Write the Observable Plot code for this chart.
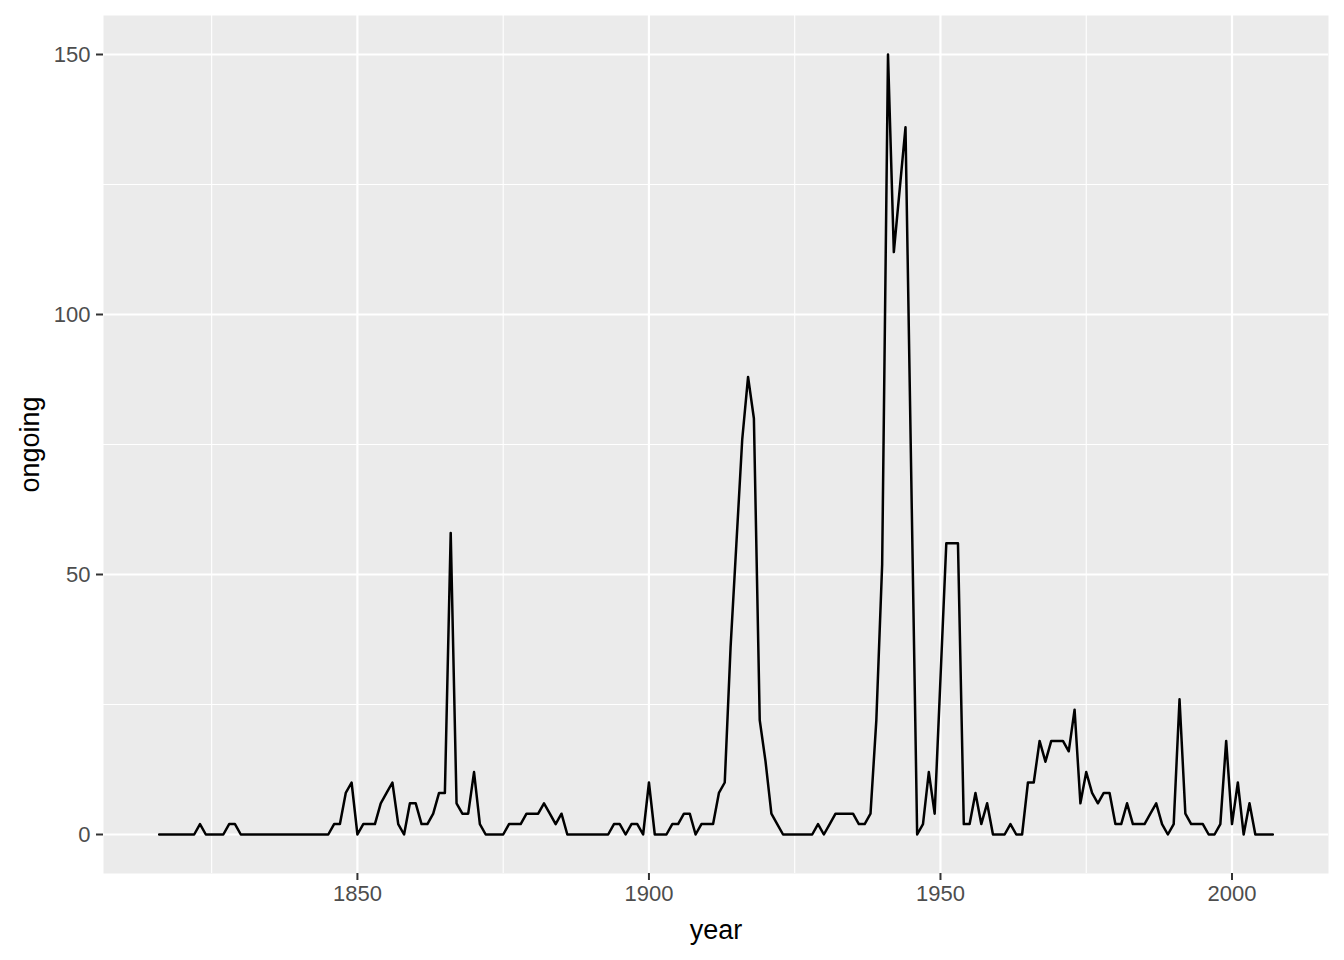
<!DOCTYPE html>
<html>
<head>
<meta charset="utf-8">
<script src="https://cdn.jsdelivr.net/npm/d3@7"></script>
<script src="https://cdn.jsdelivr.net/npm/@observablehq/plot@0.6"></script>
<style>
  html, body { margin: 0; padding: 0; background: #ffffff; }
  #chart svg { display: block; background: #ffffff; }
</style>
</head>
<body>
<div id="chart"></div>
<script>
const years = [
  1816, 1817, 1818, 1819,
  1820, 1821, 1822, 1823, 1824, 1825, 1826, 1827, 1828, 1829,
  1830, 1831, 1832, 1833, 1834, 1835, 1836, 1837, 1838, 1839,
  1840, 1841, 1842, 1843, 1844, 1845, 1846, 1847, 1848, 1849,
  1850, 1851, 1852, 1853, 1854, 1855, 1856, 1857, 1858, 1859,
  1860, 1861, 1862, 1863, 1864, 1865, 1866, 1867, 1868, 1869,
  1870, 1871, 1872, 1873, 1874, 1875, 1876, 1877, 1878, 1879,
  1880, 1881, 1882, 1883, 1884, 1885, 1886, 1887, 1888, 1889,
  1890, 1891, 1892, 1893, 1894, 1895, 1896, 1897, 1898, 1899,
  1900, 1901, 1902, 1903, 1904, 1905, 1906, 1907, 1908, 1909,
  1910, 1911, 1912, 1913, 1914, 1915, 1916, 1917, 1918, 1919,
  1920, 1921, 1922, 1923, 1924, 1925, 1926, 1927, 1928, 1929,
  1930, 1931, 1932, 1933, 1934, 1935, 1936, 1937, 1938, 1939,
  1940, 1941, 1942, 1943, 1944, 1945, 1946, 1947, 1948, 1949,
  1950, 1951, 1952, 1953, 1954, 1955, 1956, 1957, 1958, 1959,
  1960, 1961, 1962, 1963, 1964, 1965, 1966, 1967, 1968, 1969,
  1970, 1971, 1972, 1973, 1974, 1975, 1976, 1977, 1978, 1979,
  1980, 1981, 1982, 1983, 1984, 1985, 1986, 1987, 1988, 1989,
  1990, 1991, 1992, 1993, 1994, 1995, 1996, 1997, 1998, 1999,
  2000, 2001, 2002, 2003, 2004, 2005, 2006, 2007
];

const ongoing = [
  0, 0, 0, 0,
  0, 0, 0, 2, 0, 0, 0, 0, 2, 2,
  0, 0, 0, 0, 0, 0, 0, 0, 0, 0,
  0, 0, 0, 0, 0, 0, 2, 2, 8, 10,
  0, 2, 2, 2, 6, 8, 10, 2, 0, 6,
  6, 2, 2, 4, 8, 8, 58, 6, 4, 4,
  12, 2, 0, 0, 0, 0, 2, 2, 2, 4,
  4, 4, 6, 4, 2, 4, 0, 0, 0, 0,
  0, 0, 0, 0, 2, 2, 0, 2, 2, 0,
  10, 0, 0, 0, 2, 2, 4, 4, 0, 2,
  2, 2, 8, 10, 36, 56, 76, 88, 80, 22,
  14, 4, 2, 0, 0, 0, 0, 0, 0, 2,
  0, 2, 4, 4, 4, 4, 2, 2, 4, 22,
  52, 150, 112, 124, 136, 68, 0, 2, 12, 4,
  30, 56, 56, 56, 2, 2, 8, 2, 6, 0,
  0, 0, 2, 0, 0, 10, 10, 18, 14, 18,
  18, 18, 16, 24, 6, 12, 8, 6, 8, 8,
  2, 2, 6, 2, 2, 2, 4, 6, 2, 0,
  2, 26, 4, 2, 2, 2, 0, 0, 2, 18,
  2, 10, 0, 6, 0, 0, 0, 0
];

const xMajorTicks = [1850, 1900, 1950, 2000];
const xMinorTicks = [1825, 1875, 1925, 1975];
const yMajorTicks = [0, 50, 100, 150];
const yMinorTicks = [25, 75, 125];
const xTitle = "year";
const yTitle = "ongoing";

const data = years.map((y, i) => ({year: y, ongoing: ongoing[i]}));

const xPad = (d3.max(years) - d3.min(years)) * 0.05;
const yPad = (d3.max(ongoing) - d3.min(ongoing)) * 0.05;

const chart = Plot.plot({
  width: 1344,
  height: 960,
  marginLeft: 103,
  marginRight: 16,
  marginTop: 15,
  marginBottom: 87,
  style: {fontFamily: "'Liberation Sans', Arial, Helvetica, sans-serif", background: "#ffffff"},
  x: {domain: [d3.min(years) - xPad, d3.max(years) + xPad]},
  y: {domain: [d3.min(ongoing) - yPad, d3.max(ongoing) + yPad]},
  marks: [
    Plot.frame({fill: "#EBEBEB", stroke: null}),
    Plot.gridX(xMinorTicks, {stroke: "#ffffff", strokeOpacity: 1, strokeWidth: 1.1}),
    Plot.gridY(yMinorTicks, {stroke: "#ffffff", strokeOpacity: 1, strokeWidth: 1.1}),
    Plot.gridX(xMajorTicks, {stroke: "#ffffff", strokeOpacity: 1, strokeWidth: 2.2}),
    Plot.gridY(yMajorTicks, {stroke: "#ffffff", strokeOpacity: 1, strokeWidth: 2.2}),
    Plot.line(data, {x: "year", y: "ongoing", stroke: "#000000", strokeWidth: 2.5}),
    Plot.axisX(xMajorTicks, {
      tickSize: 7, tickPadding: 5, stroke: "#333333", strokeWidth: 2,
      fill: "#4D4D4D", fontSize: 22, tickFormat: d => String(d), label: null
    }),
    Plot.axisY(yMajorTicks, {
      tickSize: 7, tickPadding: 6, stroke: "#333333", strokeWidth: 2,
      fill: "#4D4D4D", fontSize: 22, tickFormat: d => String(d), label: null
    }),
    Plot.text([xTitle], {
      text: d => d, frameAnchor: "bottom", dy: 57, fontSize: 27, fill: "#000000",
      textAnchor: "middle", lineAnchor: "middle"
    }),
    Plot.text([yTitle], {
      text: d => d, frameAnchor: "left", dx: -73, rotate: -90, fontSize: 27, fill: "#000000",
      textAnchor: "middle", lineAnchor: "middle"
    })
  ]
});

document.getElementById("chart").appendChild(chart);
</script>
</body>
</html>
